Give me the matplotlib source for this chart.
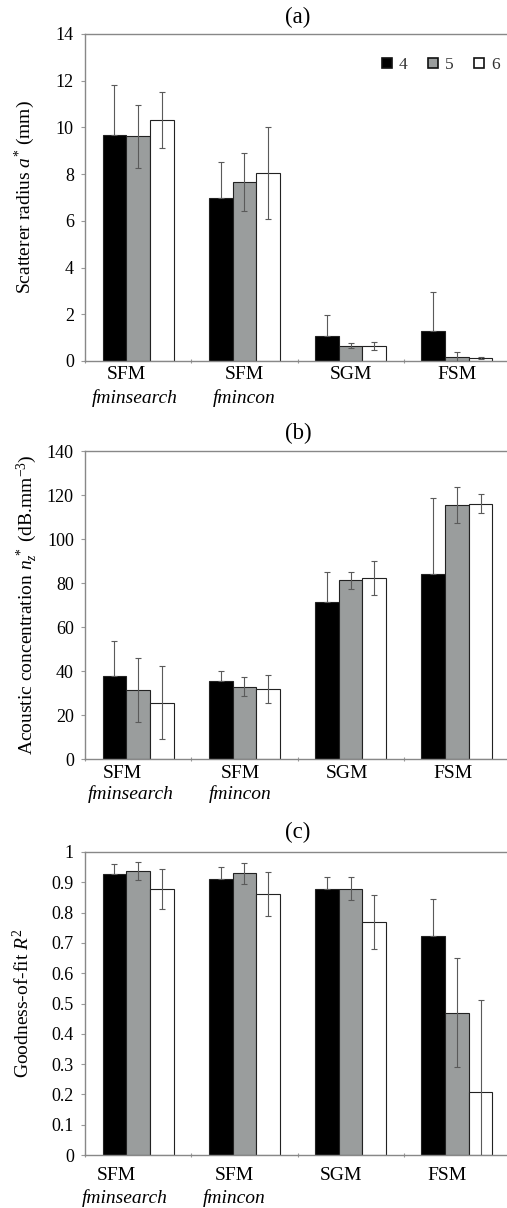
import numpy as np
import matplotlib
matplotlib.use("Agg")
import matplotlib.pyplot as plt
from matplotlib.lines import Line2D
from matplotlib.ticker import FuncFormatter

plt.rcParams['font.family'] = ['Liberation Serif', 'DejaVu Serif']
plt.rcParams['mathtext.fontset'] = 'custom'
plt.rcParams['mathtext.rm'] = 'Liberation Serif'
plt.rcParams['mathtext.it'] = 'Liberation Serif:italic'

# data
methods = ["SFM", "SFM", "SGM", "FSM"]
solvers = ["fminsearch", "fmincon", "", ""]
series = ["4", "5", "6"]

radius_mean = [[9.69, 6.96, 1.07, 1.30],
               [9.63, 7.66, 0.66, 0.17],
               [10.33, 8.04, 0.64, 0.13]]
radius_err = [[2.11, 1.55, 0.92, 1.67],
              [1.35, 1.24, 0.10, 0.20],
              [1.20, 1.97, 0.19, 0.04]]

conc_mean = [[37.9, 35.5, 71.4, 84.1],
             [31.4, 32.9, 81.2, 115.3],
             [25.6, 31.8, 82.4, 116.1]]
conc_err = [[15.7, 4.5, 13.6, 34.5],
            [14.6, 4.2, 3.8, 8.2],
            [16.5, 6.3, 7.8, 4.2]]

r2_mean = [[0.929, 0.911, 0.879, 0.724],
           [0.938, 0.930, 0.879, 0.469],
           [0.879, 0.862, 0.769, 0.207]]
r2_err = [[0.030, 0.040, 0.038, 0.120],
          [0.030, 0.035, 0.038, 0.180],
          [0.066, 0.073, 0.090, 0.303]]

colors = ["#000000", "#9a9d9d", "#ffffff"]
W, H = 507, 1208
fig = plt.figure(figsize=(W / 100, H / 100), dpi=100)

def add_panel(top, bottom, means, errs, ymax, ystep, ylabel, title, title_y,
              ylab_x, lab1_dy, lab2_dy, lab_dx, legend=False):
    left, right = 85, 510
    ax = fig.add_axes([left / W, 1 - bottom / H, (right - left) / W, (bottom - top) / H])
    x = np.arange(len(methods))
    bw = 0.223
    for k in range(3):
        ax.bar(x + (k - 1) * bw, means[k], bw, color=colors[k],
               edgecolor="#222222", linewidth=0.8, zorder=2, label=series[k])
        e = np.array(errs[k])
        # the lower half of the black bars' whiskers is hidden in the reference
        yerr = [np.zeros_like(e), e] if k == 0 else e
        ax.errorbar(x + (k - 1) * bw, means[k], yerr=yerr, fmt="none",
                    ecolor="#5a5a5a", elinewidth=0.8, capsize=2.5, capthick=0.8, zorder=3)
    ax.set_xlim(-0.5, len(methods) - 0.5)
    ax.set_ylim(0, ymax)
    ax.set_yticks(np.arange(0, ymax + ystep / 2, ystep))
    ax.yaxis.set_major_formatter(FuncFormatter(lambda v, p: f"{v:g}"))
    ax.set_xticks(np.arange(-0.5, len(methods), 1.0))
    ax.set_xticklabels([])
    ax.tick_params(axis="x", length=3, color="#999999", direction="inout")
    ax.tick_params(axis="y", length=3, color="#999999", labelsize=13, pad=5)
    for s in ax.spines.values():
        s.set_color("#888888")
        s.set_linewidth(1.0)
    # category labels (two lines, second italic)
    px = 1.0 / 106.25
    for i in range(len(methods)):
        d1 = lab_dx + (-12 if i == 0 else 0)
        d2 = lab_dx + (-3 if i == 0 else 0)
        ax.text(i + d1 * px, -lab1_dy / (bottom - top) * ymax, methods[i],
                ha="center", va="center", fontsize=14)
        if solvers[i]:
            ax.text(i + d2 * px, -lab2_dy / (bottom - top) * ymax, solvers[i],
                    ha="center", va="center", fontsize=14, style="italic")
    fig.text(ylab_x / W, 1 - (top + bottom) / 2 / H, ylabel, rotation=90,
             ha="center", va="center", fontsize=14)
    fig.text(298 / W, 1 - title_y / H, title, ha="center", va="center", fontsize=16.5)
    if legend:
        handles = [Line2D([], [], marker="s", linestyle="none", markersize=6.5,
                          markerfacecolor=c, markeredgecolor="#111111",
                          markeredgewidth=1.2) for c in colors]
        leg = ax.legend(handles, series, ncol=3, frameon=False, loc="upper right",
                        bbox_to_anchor=(0.975, 0.93), borderpad=0, borderaxespad=0,
                        handlelength=0.7, handletextpad=0.35, columnspacing=1.1,
                        fontsize=12.5)
        for t in leg.get_texts():
            t.set_color("#333333")
    return ax

add_panel(34, 361, radius_mean, radius_err, 14, 2,
          "Scatterer radius $a^{*}$ (mm)", "(a)", 17, 25, 14, 37, 0, legend=True)
add_panel(451, 759, conc_mean, conc_err, 140, 20,
          "Acoustic concentration $n_z^{\\,*}$ (dB.mm$^{-3}$)", "(b)", 433, 27, 14, 35, -4)
add_panel(852, 1155, r2_mean, r2_err, 1.0, 0.1,
          "Goodness-of-fit $R^2$", "(c)", 832, 23, 21, 43, -10)

fig.savefig("out.png", dpi=100)
